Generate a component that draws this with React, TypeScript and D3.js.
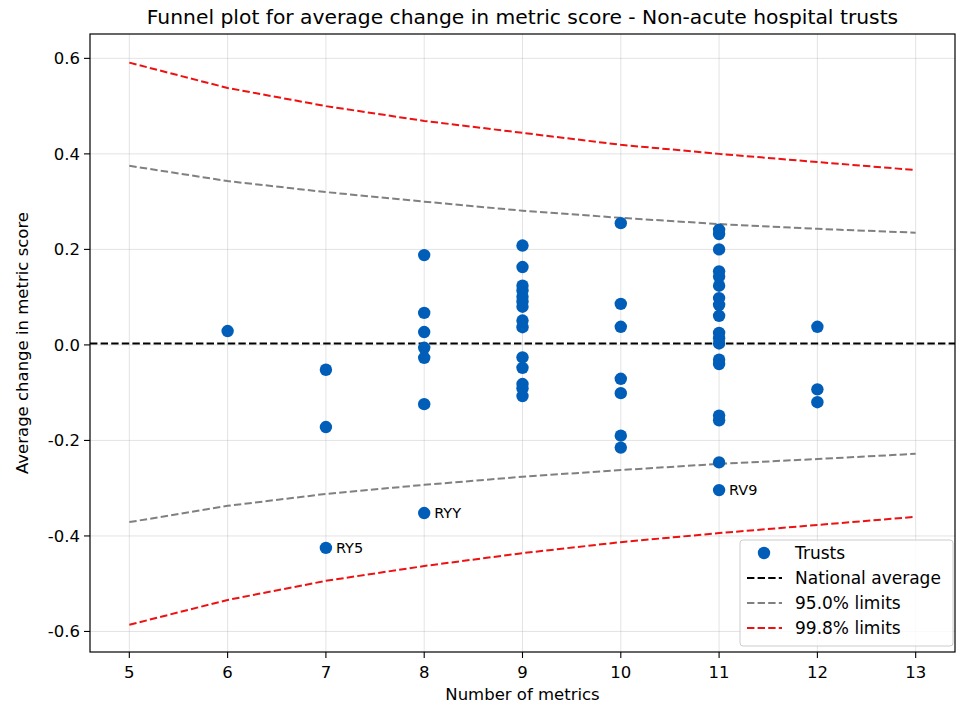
import React, { useEffect } from 'react';
import * as d3 from 'd3';

// Number of metrics for each funnel point
const limitN = [5, 6, 7, 8, 9, 10, 11, 12, 13];
const upper998 = [0.591, 0.538, 0.5, 0.469, 0.444, 0.419, 0.4, 0.383, 0.366];
const lower998 = [-0.586, -0.534, -0.494, -0.463, -0.436, -0.413, -0.394, -0.377, -0.36];
const upper95 = [0.375, 0.343, 0.32, 0.3, 0.281, 0.266, 0.253, 0.243, 0.235];
const lower95 = [-0.371, -0.337, -0.312, -0.293, -0.276, -0.262, -0.249, -0.239, -0.228];
const nationalAverage = 0.003;

// Trusts
const trustCounts = [
  6,
  7, 7, 7,
  8, 8, 8, 8, 8, 8, 8,
  9, 9, 9, 9, 9, 9, 9, 9, 9, 9, 9, 9, 9, 9,
  10, 10, 10, 10, 10, 10, 10,
  11, 11, 11, 11, 11, 11, 11, 11, 11, 11, 11, 11, 11, 11, 11, 11, 11, 11,
  12, 12, 12,
];
const trustScores = [
  0.029,
  -0.052, -0.172, -0.425,
  0.188, 0.067, 0.027, -0.006, -0.027, -0.124, -0.352,
  0.208, 0.163, 0.124, 0.114, 0.101, 0.091, 0.08, 0.051, 0.037, -0.026, -0.048, -0.082, -0.091, -0.107,
  0.255, 0.086, 0.038, -0.071, -0.101, -0.19, -0.215,
  0.241, 0.232, 0.2, 0.154, 0.143, 0.124, 0.098, 0.084, 0.061, 0.025, 0.014, 0.003, -0.031, -0.04, -0.148, -0.158, -0.246, -0.304,
  0.038, -0.093, -0.12,
];

const labelCodes = ['RY5', 'RYY', 'RV9'];
const labelCounts = [7, 8, 11];
const labelScores = [-0.425, -0.352, -0.304];

const xTicks = [5, 6, 7, 8, 9, 10, 11, 12, 13];
const yTicks = [-0.6, -0.4, -0.2, 0.0, 0.2, 0.4, 0.6];

const legendItems = ['Trusts', 'National average', '95.0% limits', '99.8% limits'];

const W = 964;
const H = 724;
const left = 90;
const right = 955;
const top = 34;
const bottom = 652;
const font = 'DejaVu Sans, sans-serif';
const blue = '#005EB8';
const dash = '7.4,3.2';

const App: React.FC = () => {
  useEffect(() => {
    document.body.style.margin = '0';
  }, []);

  const x = d3.scaleLinear().domain([4.6, 13.4]).range([left, right]);
  const y = d3.scaleLinear().domain([-0.643, 0.651]).range([bottom, top]);

  const line = d3
    .line<number>()
    .x((_, i) => x(limitN[i]))
    .y((d) => y(d));

  const limits = [
    { data: upper998, color: '#ee1111' },
    { data: lower998, color: '#ee1111' },
    { data: upper95, color: '#808080' },
    { data: lower95, color: '#808080' },
  ];

  const legendX = 740;
  const legendY = 540;

  return (
    <svg width={W} height={H} style={{ display: 'block', background: '#fff' }}>
      {/* grid */}
      {xTicks.map((t) => (
        <line key={'gx' + t} x1={x(t)} x2={x(t)} y1={top} y2={bottom} stroke="#b0b0b0" strokeOpacity={0.35} strokeWidth={1} />
      ))}
      {yTicks.map((t) => (
        <line key={'gy' + t} x1={left} x2={right} y1={y(t)} y2={y(t)} stroke="#b0b0b0" strokeOpacity={0.35} strokeWidth={1} />
      ))}

      {/* limits */}
      {limits.map((l, i) => (
        <path key={'l' + i} d={line(l.data) || ''} fill="none" stroke={l.color} strokeWidth={2} strokeDasharray={dash} />
      ))}

      {/* national average */}
      <line x1={left} x2={right} y1={y(nationalAverage)} y2={y(nationalAverage)} stroke="#000" strokeWidth={2.2} strokeDasharray={dash} />

      {/* trusts */}
      {trustScores.map((s, i) => (
        <circle key={'p' + i} cx={x(trustCounts[i])} cy={y(s)} r={6.2} fill={blue} />
      ))}

      {labelCodes.map((c, i) => (
        <text key={c} x={x(labelCounts[i]) + 10} y={y(labelScores[i])} dy="0.35em" fontFamily={font} fontSize={14.5}>
          {c}
        </text>
      ))}

      {/* frame */}
      <rect x={left} y={top} width={right - left} height={bottom - top} fill="none" stroke="#000" strokeWidth={1.2} />

      {/* x axis */}
      {xTicks.map((t) => (
        <g key={'xt' + t} transform={`translate(${x(t)},${bottom})`}>
          <line y2={6} stroke="#000" strokeWidth={1.1} />
          <text y={26} textAnchor="middle" fontFamily={font} fontSize={16.5}>
            {t}
          </text>
        </g>
      ))}
      {/* y axis */}
      {yTicks.map((t) => (
        <g key={'yt' + t} transform={`translate(${left},${y(t)})`}>
          <line x2={-6} stroke="#000" strokeWidth={1.1} />
          <text x={-10} dy="0.35em" textAnchor="end" fontFamily={font} fontSize={16.5}>
            {d3.format('.1f')(t).replace('−', '-')}
          </text>
        </g>
      ))}

      <text x={(left + right) / 2} y={700} textAnchor="middle" fontFamily={font} fontSize={16.5}>
        Number of metrics
      </text>
      <text transform={`translate(28,${(top + bottom) / 2}) rotate(-90)`} textAnchor="middle" fontFamily={font} fontSize={16.5}>
        Average change in metric score
      </text>
      <text x={(left + right) / 2} y={24} textAnchor="middle" fontFamily={font} fontSize={20.3}>
        Funnel plot for average change in metric score - Non-acute hospital trusts
      </text>

      {/* legend */}
      <rect x={legendX} y={legendY} width={213} height={106} rx={3} fill="#fff" fillOpacity={0.8} stroke="#cccccc" />
      {legendItems.map((item, i) => {
        const cy = legendY + 13 + i * 25;
        const colors = ['', '#000', '#808080', '#ee1111'];
        return (
          <g key={item}>
            {i === 0 ? (
              <circle cx={legendX + 24} cy={cy} r={6.2} fill={blue} />
            ) : (
              <line x1={legendX + 7} x2={legendX + 42} y1={cy} y2={cy} stroke={colors[i]} strokeWidth={2} strokeDasharray={dash} />
            )}
            <text x={legendX + 55} y={cy} dy="0.35em" fontFamily={font} fontSize={17}>
              {item}
            </text>
          </g>
        );
      })}
    </svg>
  );
};

export default App;
